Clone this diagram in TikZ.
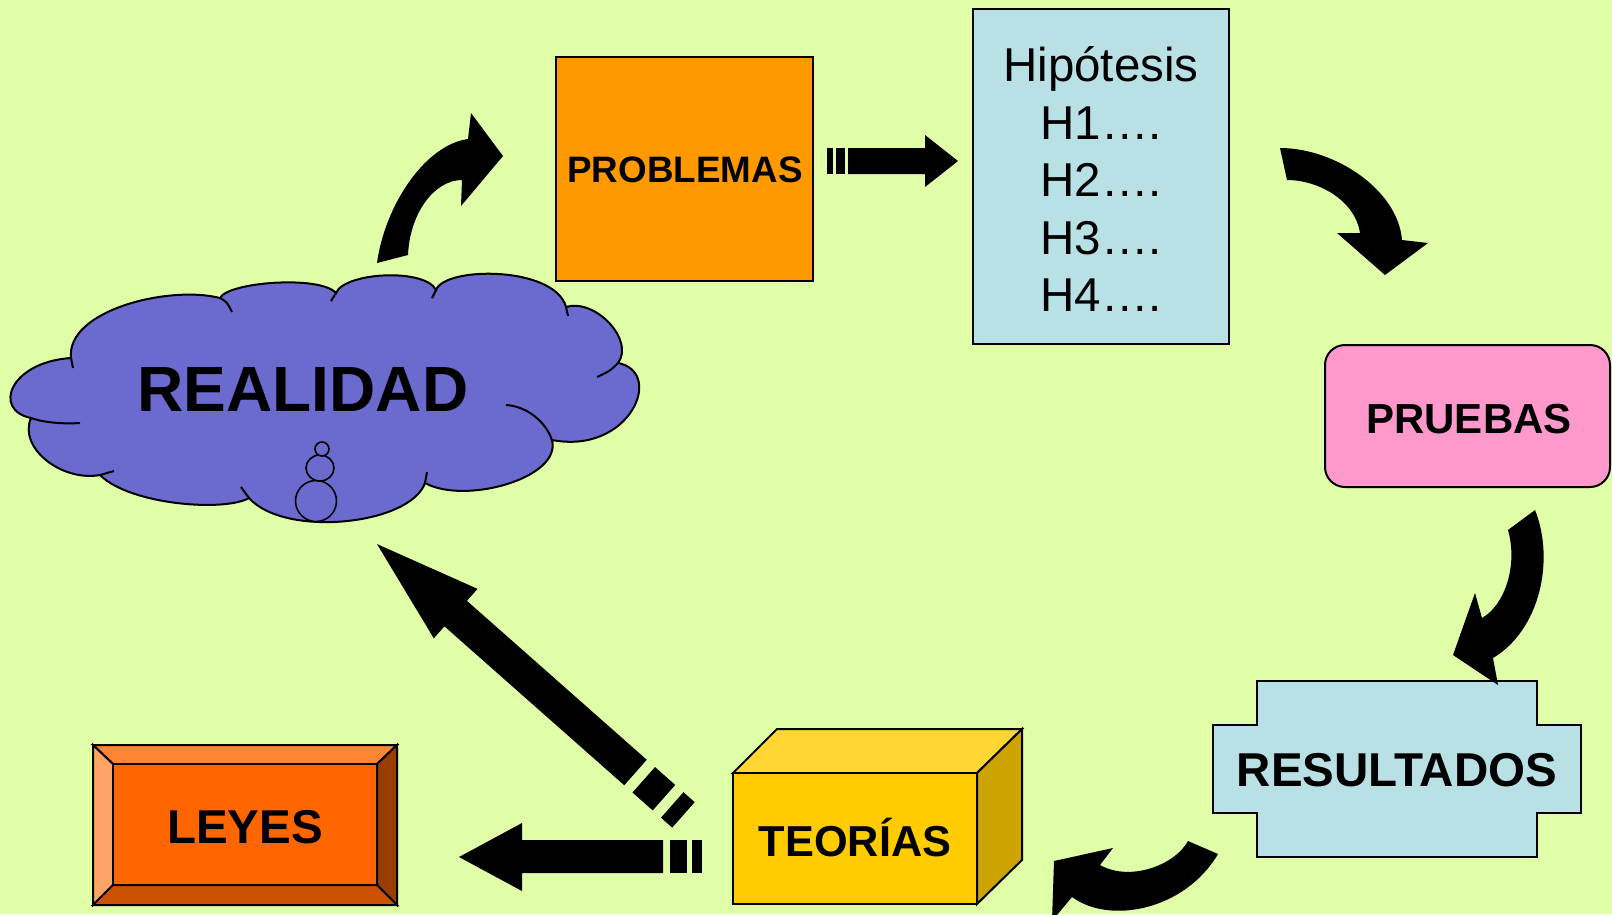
\documentclass[tikz,border=0pt]{standalone}
\usepackage{fontspec}
\setmainfont{Liberation Sans}
\definecolor{bg}{HTML}{E0FEA8}
\definecolor{probc}{HTML}{FF9900}
\definecolor{hipc}{HTML}{B8E0E5}
\definecolor{pruc}{HTML}{FF99CC}
\definecolor{cloudc}{HTML}{6B6BCF}
\definecolor{teofront}{HTML}{FFCC00}
\definecolor{teotop}{HTML}{FFD633}
\definecolor{teoside}{HTML}{CCA300}
\definecolor{leyin}{HTML}{FF6600}
\definecolor{leytop}{HTML}{FF8533}
\definecolor{leyleft}{HTML}{FFA366}
\definecolor{leyright}{HTML}{993D00}
\definecolor{leybot}{HTML}{CC5200}
\begin{document}
\begin{tikzpicture}[x=1pt,y=-1pt,
  boxline/.style={draw=black,line width=2pt,line join=miter},
  shapebox/.style={boxline,inner sep=0pt,outer sep=0pt},
  txt/.style={inner sep=0pt,anchor=base},
  blockarrow/.style={fill=black},
  cloudst/.style={fill=cloudc,draw=black,line width=2pt,line join=miter},
  tuck/.style={draw=black,line width=2pt}]
\useasboundingbox (0,0) rectangle (1612,914);
\fill[bg] (0,0) rectangle (1612,914);
\clip (0,0) rectangle (1612,914);

% ---------- cloud REALIDAD ----------
\path[cloudst] (71,358)
  .. controls (66,310) and (170,285) .. (220,298)
  .. controls (228,282) and (320,275) .. (336,293)
  .. controls (345,272) and (425,268) .. (436,290)
  .. controls (445,266) and (555,266) .. (566,307)
  .. controls (595,298) and (635,340) .. (618,363)
  .. controls (665,372) and (630,455) .. (552,440)
  .. controls (562,478) and (465,505) .. (425,483)
  .. controls (410,525) and (285,538) .. (249,498)
  .. controls (225,512) and (130,505) .. (100,475)
  .. controls (62,482) and (18,448) .. (31,418)
  .. controls (-8,410) and (10,362) .. (71,358)
  -- cycle;
\coordinate (realidad) at (303,389);
% inner tucks of the cloud
\draw[tuck] (71,358) -- (73,368);
\draw[tuck] (220,298) .. controls (227,302) .. (232,312);
\draw[tuck] (336,293) -- (331,301);
\draw[tuck] (436,290) -- (432,298);
\draw[tuck] (566,307) -- (568,316);
\draw[tuck] (618,363) .. controls (610,371) .. (597,377);
\draw[tuck] (552,440) .. controls (545,420) and (525,406) .. (506,405);
\draw[tuck] (425,483) -- (427,472);
\draw[tuck] (249,498) -- (241,487);
\draw[tuck] (100,475) -- (114,471);
\draw[tuck] (31,418) .. controls (45,423) and (65,424) .. (80,423);
% thought bubbles
\draw[fill=cloudc,line width=1.6pt] (316,501) circle (20.5);
\draw[fill=cloudc,line width=1.6pt] (320,468) ellipse (14 and 13);
\draw[fill=cloudc,line width=1.6pt] (322,449) circle (7);

% ---------- boxes ----------
\node[shapebox,fill=probc,minimum width=257pt,minimum height=224pt] (problemas) at (684.5,168.6) {};
\node[shapebox,fill=hipc,line width=1.5pt,minimum width=256pt,minimum height=335pt] (hipotesis) at (1101,176.5) {};
\node[shapebox,fill=pruc,rounded corners=20pt,minimum width=285pt,minimum height=142pt] (pruebas) at (1467.5,416) {};

% RESULTADOS cross shape
\path[boxline,fill=hipc] (1257,681) -- (1537,681) -- (1537,725) -- (1581,725) -- (1581,813)
  -- (1537,813) -- (1537,857) -- (1257,857) -- (1257,813) -- (1213,813) -- (1213,725)
  -- (1257,725) -- cycle;
\coordinate (resultados) at (1397,769);

% TEORIAS cube
\path[boxline,fill=teotop] (733,773) -- (777,729) -- (1022,729) -- (977,773) -- cycle;
\path[boxline,fill=teoside] (977,773) -- (1022,729) -- (1022,860) -- (977,904) -- cycle;
\node[shapebox,fill=teofront,minimum width=244pt,minimum height=131pt] (teorias) at (855,838.5) {};

% LEYES bevel
\path[boxline,fill=leytop] (93,745) -- (397,745) -- (377,764) -- (113,764) -- cycle;
\path[boxline,fill=leyleft] (93,745) -- (113,764) -- (113,885) -- (93,905) -- cycle;
\path[boxline,fill=leyright] (397,745) -- (397,905) -- (377,885) -- (377,764) -- cycle;
\path[boxline,fill=leybot] (93,905) -- (113,885) -- (377,885) -- (397,905) -- cycle;
\node[shapebox,fill=leyin,minimum width=264pt,minimum height=121pt] (leyes) at (245,824.5) {};

% ---------- arrows ----------
% realidad -> problemas (curved)
\path[blockarrow] (377,263) .. controls (385,205) and (425,145) .. (468,139) -- (471,113)
  -- (503,156) -- (461,206) -- (462,180) .. controls (435,180) and (410,212) .. (408,255) -- cycle;
% problemas -> hipotesis (striped)
\path[blockarrow] (827,148) rectangle (833,174);
\path[blockarrow] (836,148) rectangle (845,174);
\path[blockarrow] (848,148) -- (925,148) -- (925,135) -- (958,161) -- (925,187) -- (925,174) -- (848,174) -- cycle;
% hipotesis -> pruebas (curved)
\path[blockarrow] (1280,148) .. controls (1335,148) and (1398,190) .. (1402,240) -- (1428,243)
  -- (1385,275) -- (1337,233) -- (1360,233) .. controls (1355,200) and (1318,180) .. (1287,180) -- cycle;
% pruebas -> resultados (curved)
\path[blockarrow] (1535,510) .. controls (1555,560) and (1540,630) .. (1493,658) -- (1498,685)
  -- (1453,655) -- (1475,593) -- (1482,618) .. controls (1505,605) and (1518,565) .. (1508,530) -- cycle;
% resultados -> teorias (curved)
\path[blockarrow] (1188,841) .. controls (1175,865) and (1130,882) .. (1100,865) -- (1113,848)
  -- (1054,861) -- (1052,921) -- (1072,897) .. controls (1110,925) and (1185,910) .. (1218,854) -- cycle;
% teorias -> leyes (striped)
\path[blockarrow] (692,840) rectangle (702,873);
\path[blockarrow] (670,840) rectangle (687,873);
\path[blockarrow] (663,840) -- (522,840) -- (522,823) -- (459,857) -- (522,891) -- (522,873) -- (663,873) -- cycle;
% teorias -> realidad (diagonal striped)
\begin{scope}[shift={(635.5,772.5)},rotate=138.53]
  \path[blockarrow] (0,-17) -- (240,-17) -- (240,-33) -- (345,0) -- (240,33) -- (240,17) -- (0,17) -- cycle;
  \path[blockarrow] (-11,-17) rectangle (-38,17);
  \path[blockarrow] (-49,-17) rectangle (-64,17);
\end{scope}

% ---------- texts ----------
\node[txt,font=\fontsize{64}{70}\selectfont\bfseries] (trealidad) at (303,411.5) {REALIDAD};
\node[txt,font=\fontsize{36.8}{40}\selectfont\bfseries] (tproblemas) at (685,182) {PROBLEMAS};
\node[txt,font=\fontsize{47.5}{50}\selectfont] (thip) at (1101,81) {Hipótesis};
\node[txt,font=\fontsize{47.5}{50}\selectfont] (th1) at (1101,139) {H1….};
\node[txt,font=\fontsize{47.5}{50}\selectfont] (th2) at (1101,196.5) {H2….};
\node[txt,font=\fontsize{47.5}{50}\selectfont] (th3) at (1101,254) {H3….};
\node[txt,font=\fontsize{47.5}{50}\selectfont] (th4) at (1101,311.5) {H4….};
\node[txt,font=\fontsize{42}{46}\selectfont\bfseries] (tpruebas) at (1469,433) {PRUEBAS};
\node[txt,font=\fontsize{47.5}{50}\selectfont\bfseries] (tresultados) at (1397,786.5) {RESULTADOS};
\node[txt,font=\fontsize{43.3}{48}\selectfont\bfseries] (tteorias) at (855,856.5) {TEORÍAS};
\node[txt,font=\fontsize{47.5}{50}\selectfont\bfseries] (tleyes) at (245,843) {LEYES};
\end{tikzpicture}
\end{document}
